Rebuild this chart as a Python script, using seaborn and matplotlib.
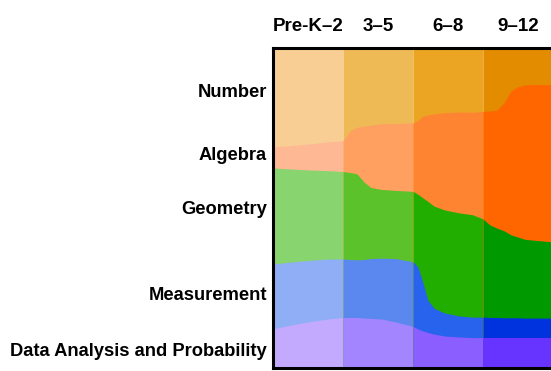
import numpy as np
import matplotlib
matplotlib.use('Agg')
import matplotlib.pyplot as plt
import seaborn as sns

# grade bands (columns) and content strands (stacked bands, top to bottom)
grades = ['Pre-K\u20132', '3\u20135', '6\u20138', '9\u201312']
strands = ['Number', 'Algebra', 'Geometry', 'Measurement', 'Data Analysis and Probability']

# position along the grade axis (0..4, one unit per grade band)
pos = [0, 0.25, 0.5, 0.75, 1.0, 1.1, 1.2, 1.3, 1.4, 1.55, 1.75, 2.0, 2.07, 2.14,
       2.21, 2.3, 2.45, 2.65, 2.85, 3.0, 3.1, 3.2, 3.3, 3.4, 3.5, 3.6, 3.8, 4.0]

# share of instructional emphasis (%) at each position
number = [30.9, 30.5, 30.0, 29.5, 29.1, 25.9, 24.8, 24.4, 24.1, 23.8, 23.6, 23.4, 22.8, 21.4,
          20.9, 20.6, 20.2, 20.1, 20.0, 19.8, 19.7, 19.5, 17.2, 13.4, 12.2, 11.6, 11.6, 11.6]
algebra = [6.6, 7.3, 8.1, 8.9, 9.6, 13.0, 14.5, 17.5, 19.5, 20.5, 20.9, 21.4, 23.0, 25.5,
           27.0, 28.8, 30.4, 31.5, 32.0, 33.6, 35.6, 36.9, 40.0, 45.0, 47.0, 48.3, 48.8, 49.1]
geometry = [30.0, 29.1, 28.3, 27.7, 27.3, 27.2, 26.9, 24.2, 22.2, 21.5, 21.3, 22.0, 22.7, 26.3,
            30.8, 31.9, 32.2, 32.2, 32.0, 30.7, 28.9, 27.9, 27.2, 25.9, 25.2, 24.6, 24.2, 23.8]
measurement = [20.3, 19.7, 19.2, 18.8, 18.3, 18.1, 18.0, 18.3, 18.7, 19.0, 19.8, 20.2, 19.4, 15.3,
               10.2, 8.1, 7.2, 6.6, 6.4, 6.4, 6.3, 6.3, 6.2, 6.2, 6.2, 6.1, 6.1, 6.1]
data_prob = [12.2, 13.4, 14.4, 15.2, 15.8, 15.8, 15.8, 15.6, 15.5, 15.3, 14.4, 13.0, 12.2, 11.6,
             11.1, 10.6, 10.0, 9.7, 9.5, 9.5, 9.5, 9.5, 9.5, 9.5, 9.5, 9.5, 9.5, 9.5]

# where the strand names sit on the left (% from bottom)
label_y = [86, 66.5, 49.5, 22.5, 5.3]

# colour per strand, light -> dark across grade bands
palette = {
    'Number': ['#F8CE94', '#EEBA56', '#EBA523', '#E38C00'],
    'Algebra': ['#FFB894', '#FFA060', '#FF8432', '#FF6600'],
    'Geometry': ['#88D46E', '#5CC22C', '#22AE00', '#009900'],
    'Measurement': ['#90AEF6', '#5A88EE', '#2863EE', '#0033DD'],
    'Data Analysis and Probability': ['#C3AAFF', '#A386FF', '#8A5EFF', '#6633FF'],
}

sns.set_theme(style='white')
plt.rcParams['font.family'] = ['Liberation Sans', 'DejaVu Sans']
plt.rcParams['text.color'] = 'black'

x = np.array(pos)
series = [np.array(s) for s in (number, algebra, geometry, measurement, data_prob)]
# cumulative top of each strand, stacking from the bottom strand upward
tops = []
acc = np.zeros_like(x)
for s in series[::-1]:
    acc = acc + s
    tops.append(acc.copy())
tops = tops[::-1]  # align with strands order

fig = plt.figure(figsize=(5.51, 3.71), dpi=100)
ax = fig.add_axes([273 / 551, 3 / 371, 280 / 551, 320 / 371])

for j in range(len(grades)):
    m = (x >= j) & (x <= j + 1)
    # paint top strand first, then overwrite downwards so no seams between strands
    for name, top in zip(strands, tops):
        ax.fill_between(x[m], 0, top[m], color=palette[name][j], lw=0)

ax.set_xlim(0, 4)
ax.set_ylim(0, 100)
ax.set_xticks([])
ax.set_yticks([])
for sp in ax.spines.values():
    sp.set_color('black')
    sp.set_linewidth(2.2)

for j, g in enumerate(grades):
    ax.text(j + 0.5, 1.068, g, transform=ax.get_xaxis_transform(), ha='center',
            va='center', fontsize=13.5, fontweight='bold', color='black')

for name, ly in zip(strands, label_y):
    ax.text(-0.085, ly, name, ha='right', va='center',
            fontsize=13.2, fontweight='bold', color='black')

fig.savefig('out.png', dpi=100)
